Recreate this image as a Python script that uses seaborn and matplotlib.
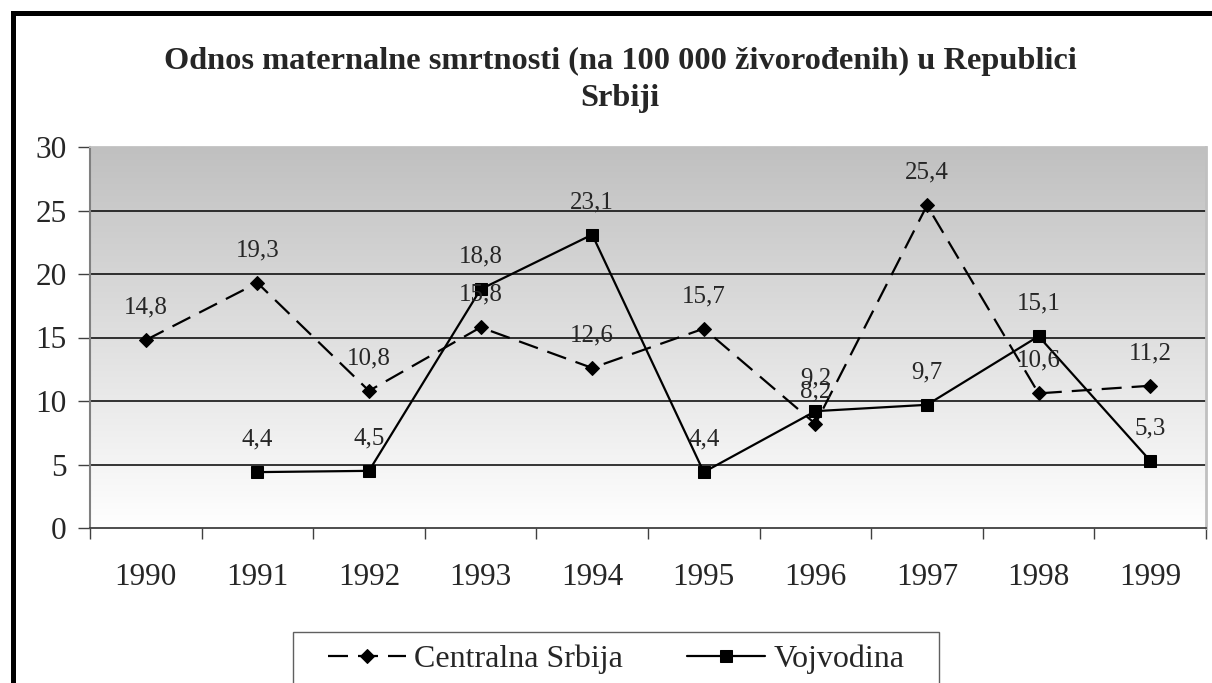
import numpy as np
import pandas as pd
import seaborn as sns
import matplotlib.pyplot as plt
from matplotlib.patches import Rectangle
from matplotlib.ticker import FixedLocator

years = ['1990', '1991', '1992', '1993', '1994', '1995', '1996', '1997', '1998', '1999']
centralna = [14.8, 19.3, 10.8, 15.8, 12.6, 15.7, 8.2, 25.4, 10.6, 11.2]
vojvodina = [np.nan, 4.4, 4.5, 18.8, 23.1, 4.4, 9.2, 9.7, 15.1, 5.3]
y_ticks = [0, 5, 10, 15, 20, 25, 30]

title = 'Odnos maternalne smrtnosti (na 100 000 živorođenih) u Republici\nSrbiji'

sns.set_theme(style='white')
plt.rcParams['font.family'] = ['Liberation Serif', 'DejaVu Serif']

df = pd.DataFrame({'pos': np.arange(len(years)), 'year': years,
                   'Centralna Srbija': centralna, 'Vojvodina': vojvodina})

fig = plt.figure(figsize=(12.12, 6.83), dpi=100)
W, H = 1212, 683
ax = fig.add_axes([90 / W, 1 - 528 / H, (1206 - 90) / W, (528 - 147) / H])

# gradient background of the plot area (grey on top, white at the bottom)
grad = np.linspace(192, 255, 256)[:, None] / 255.0
ax.imshow(np.dstack([grad, grad, grad]), extent=(-0.5, 9.5, 0, 30), origin='upper',
          aspect='auto', zorder=0, interpolation='bilinear')

sns.lineplot(data=df, x='pos', y='Centralna Srbija', ax=ax, color='black', lw=1.6,
             marker='D', markersize=7, markeredgecolor='black', dashes=(9, 4.5),
             label='Centralna Srbija', zorder=3)
sns.lineplot(data=df.dropna(), x='pos', y='Vojvodina', ax=ax, color='black', lw=1.6,
             marker='s', markersize=9, markeredgecolor='black',
             label='Vojvodina', zorder=3)

for series in (centralna, vojvodina):
    for i, v in enumerate(series):
        if np.isnan(v):
            continue
        ax.annotate(f'{v:.1f}'.replace('.', ','), (i, v), xytext=(0, 23.5),
                    textcoords='offset points', ha='center', va='center', fontsize=18)

ax.set_xlim(-0.5, 9.5)
ax.set_ylim(0, 30)
ax.set_yticks(y_ticks)
ax.set_xticks(np.arange(len(years)))
ax.set_xticklabels(years)
ax.xaxis.set_minor_locator(FixedLocator(np.arange(-0.5, 10, 1)))
ax.tick_params(axis='x', which='major', length=0, pad=25, labelsize=22.5)
ax.tick_params(axis='x', which='minor', length=8, width=1, color='#404040', direction='out', bottom=True)
ax.tick_params(axis='y', length=9, width=1, color='#404040', direction='out', left=True, pad=8, labelsize=22.5)
ax.set_xlabel('')
ax.set_ylabel('')

for yv in y_ticks[1:-1]:
    ax.axhline(yv, color='black', lw=1.1, zorder=1)

ax.spines['left'].set_color('#808080')
ax.spines['left'].set_linewidth(1.5)
ax.spines['bottom'].set_color('#404040')
ax.spines['bottom'].set_linewidth(1.3)
ax.spines['top'].set_color('#c0c0c0')
ax.spines['right'].set_color('#c0c0c0')
ax.spines['right'].set_linewidth(2)

# legend without its own frame; box drawn separately so it runs off the bottom edge
ax.legend(loc='center left', bbox_to_anchor=(328 / W, 1 - 659 / H), bbox_transform=fig.transFigure,
          ncol=2, fontsize=23, frameon=False, handlelength=2.45, columnspacing=2.0,
          handletextpad=0.25, borderpad=0, borderaxespad=0)
fig.patches.append(Rectangle((293 / W, -0.1), (939 - 293) / W, 0.1 + 1 - 632 / H,
                             transform=fig.transFigure, fill=False,
                             edgecolor='#606060', lw=1, zorder=9))

fig.text(620 / W, 1 - 80 / H, title, ha='center', va='center', fontsize=23.3,
         fontweight='bold', linespacing=1.4)

# outer chart frame (bottom and right run past the image edge)
fig.patches.append(Rectangle((12.5 / W, -0.2), 1.5, 1.2 - 12.5 / H,
                             transform=fig.transFigure, fill=False,
                             edgecolor='black', lw=3.6, zorder=10))

fig.savefig('out.png', dpi=100)
